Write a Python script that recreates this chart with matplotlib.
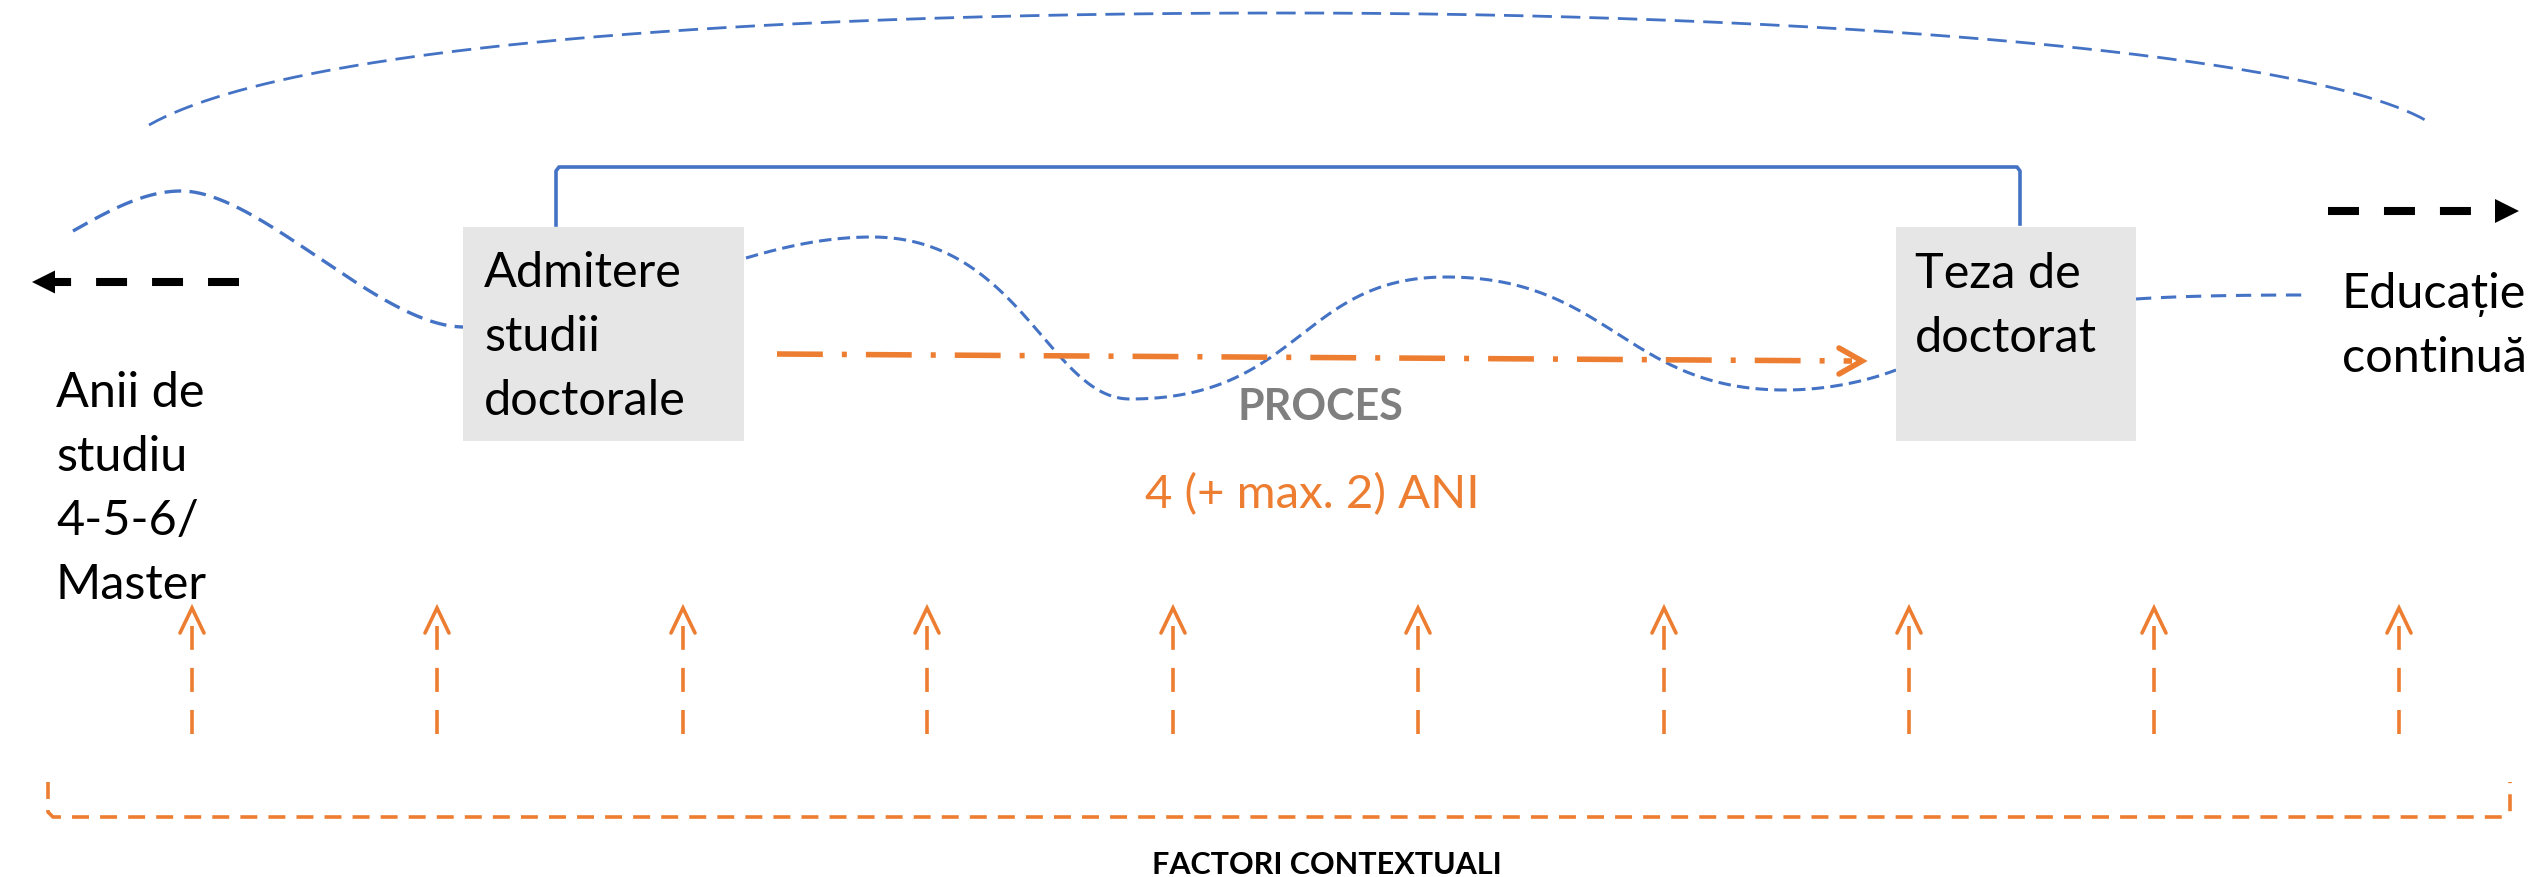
import numpy as np
import matplotlib.pyplot as plt
from matplotlib.patches import Rectangle

plt.rcParams['lines.scale_dashes'] = False
plt.rcParams['font.family'] = ['Lato', 'DejaVu Sans']

BLUE = '#4472C4'
ORANGE = '#ED7D31'
BOX_GREY = '#E6E6E6'

# boxes: x, y(top), w, h  (pixel coords, y down)
box_admitere = [463, 227, 281, 214]
box_teza = [1896, 227, 240, 214]

# text blocks: left x, first baseline, lines
admitere_lines = ["Admitere", "studii", "doctorale"]
teza_lines = ["Teza de", "doctorat"]
anii_lines = ["Anii de", "studiu", "4-5-6/", "Master"]
educatie_lines = ["Educație", "continuă"]
line_step = 64

# x of the "factori contextuali" arrows
factor_x = [192, 437, 683, 927, 1173, 1418, 1664, 1909, 2154, 2399]

# bezier segments (p0, c1, c2, p1)
top_arc = [
    [(149, 125), (300, 40), (800, 13), (1286, 13)],
    [(1286, 13), (1770, 13), (2300, 48), (2427, 121)],
]
left_wave = [
    [(73, 231), (110, 210), (145, 191), (181, 191)],
    [(181, 191), (260, 191), (380, 327), (464, 327)],
]
mid_wave = [
    [(746, 258), (790, 245), (830, 237), (872, 237)],
    [(872, 237), (1020, 237), (1050, 399), (1130, 399)],
    [(1130, 399), (1300, 399), (1300, 277), (1446, 277)],
    [(1446, 277), (1610, 277), (1625, 390), (1785, 390)],
    [(1785, 390), (1830, 390), (1870, 380), (1896, 370)],
]
right_link = [
    [(2136, 299), (2180, 296), (2240, 295), (2305, 295)],
]


def bezier(segs, n=120):
    pts = []
    t = np.linspace(0, 1, n)[:, None]
    for p0, c1, c2, p1 in segs:
        p0, c1, c2, p1 = map(np.array, (p0, c1, c2, p1))
        b = ((1 - t) ** 3) * p0 + 3 * ((1 - t) ** 2) * t * c1 \
            + 3 * (1 - t) * t ** 2 * c2 + t ** 3 * p1
        pts.append(b)
    pts = np.vstack(pts)
    return pts[:, 0], pts[:, 1]


fig = plt.figure(figsize=(25.37, 8.77), dpi=100)
ax = fig.add_axes([0, 0, 1, 1])
ax.set_xlim(0, 2537)
ax.set_ylim(877, 0)
ax.axis('off')

# blue dashed curves
x, y = bezier(top_arc)
ax.plot(x, y, color=BLUE, lw=2.0, dashes=(14, 6.5))
x, y = bezier(left_wave)
ax.plot(x, y, color=BLUE, lw=2.4, dashes=(12, 6))
x, y = bezier(mid_wave)
ax.plot(x, y, color=BLUE, lw=2.2, dashes=(9, 4.5))
x, y = bezier(right_link)
ax.plot(x, y, color=BLUE, lw=2.2, dashes=(11, 7))

# blue bracket over the process
bx = [556, 556, 559, 2017, 2020, 2020]
by = [225, 171, 167, 167, 171, 224]
ax.plot(bx, by, color=BLUE, lw=2.6, solid_joinstyle='round')

# grey boxes
for bxy in (box_admitere, box_teza):
    ax.add_patch(Rectangle((bxy[0], bxy[1]), bxy[2], bxy[3],
                           facecolor=BOX_GREY, edgecolor='none', zorder=3))

# orange dash-dot arrow (process)
ax.plot([777, 1852], [354, 361], color=ORANGE, lw=4.0,
        dashes=(33, 13.7, 3.6, 13.7), zorder=4)
ax.plot([1839, 1862, 1839], [348, 361, 374], color=ORANGE, lw=4.0,
        solid_capstyle='round', solid_joinstyle='miter', zorder=4)

# black dashed arrows
ax.plot([239, 55], [282, 282], color='black', lw=5.8, dashes=(22.3, 18))
ax.fill([32, 55, 55], [282, 270.5, 293.5], color='black', lw=0)
ax.plot([2328, 2471], [211, 211], color='black', lw=5.8, dashes=(22.3, 18))
ax.fill([2519, 2495, 2495], [211, 199, 223], color='black', lw=0)

# factor arrows
for fx in factor_x:
    ax.plot([fx, fx], [734, 626], color=ORANGE, lw=2.6, dashes=(17.3, 13))
    ax.plot([fx - 12, fx, fx + 12], [633, 608, 633], color=ORANGE, lw=2.6,
            solid_capstyle='round', solid_joinstyle='miter')

# orange dashed bracket at the bottom
ox = [48, 48, 53, 2505, 2510, 2510]
oy = [782, 812, 817, 817, 812, 782]
ax.plot(ox, oy, color=ORANGE, lw=2.6, dashes=(12.2, 8))

# texts
def block(lines, x0, y0, **kw):
    for i, s in enumerate(lines):
        ax.text(x0, y0 + i * line_step, s, ha='left', va='baseline',
                fontsize=35, color='black', zorder=5, **kw)

block(admitere_lines, 484, 287)
block(teza_lines, 1915, 288)
block(anii_lines, 56, 407)
block(educatie_lines, 2342, 308)

ax.text(1320, 420, "PROCES", ha='center', va='baseline', fontsize=31,
        fontweight='bold', color='#7F7F7F', zorder=5)
ax.text(1312, 508, "4 (+ max. 2) ANI", ha='center', va='baseline',
        fontsize=34, color=ORANGE, zorder=5)
ax.text(1327, 874, "FACTORI CONTEXTUALI", ha='center', va='baseline',
        fontsize=22, fontweight='bold', color='black', zorder=5)

fig.savefig('out.png', dpi=100)
